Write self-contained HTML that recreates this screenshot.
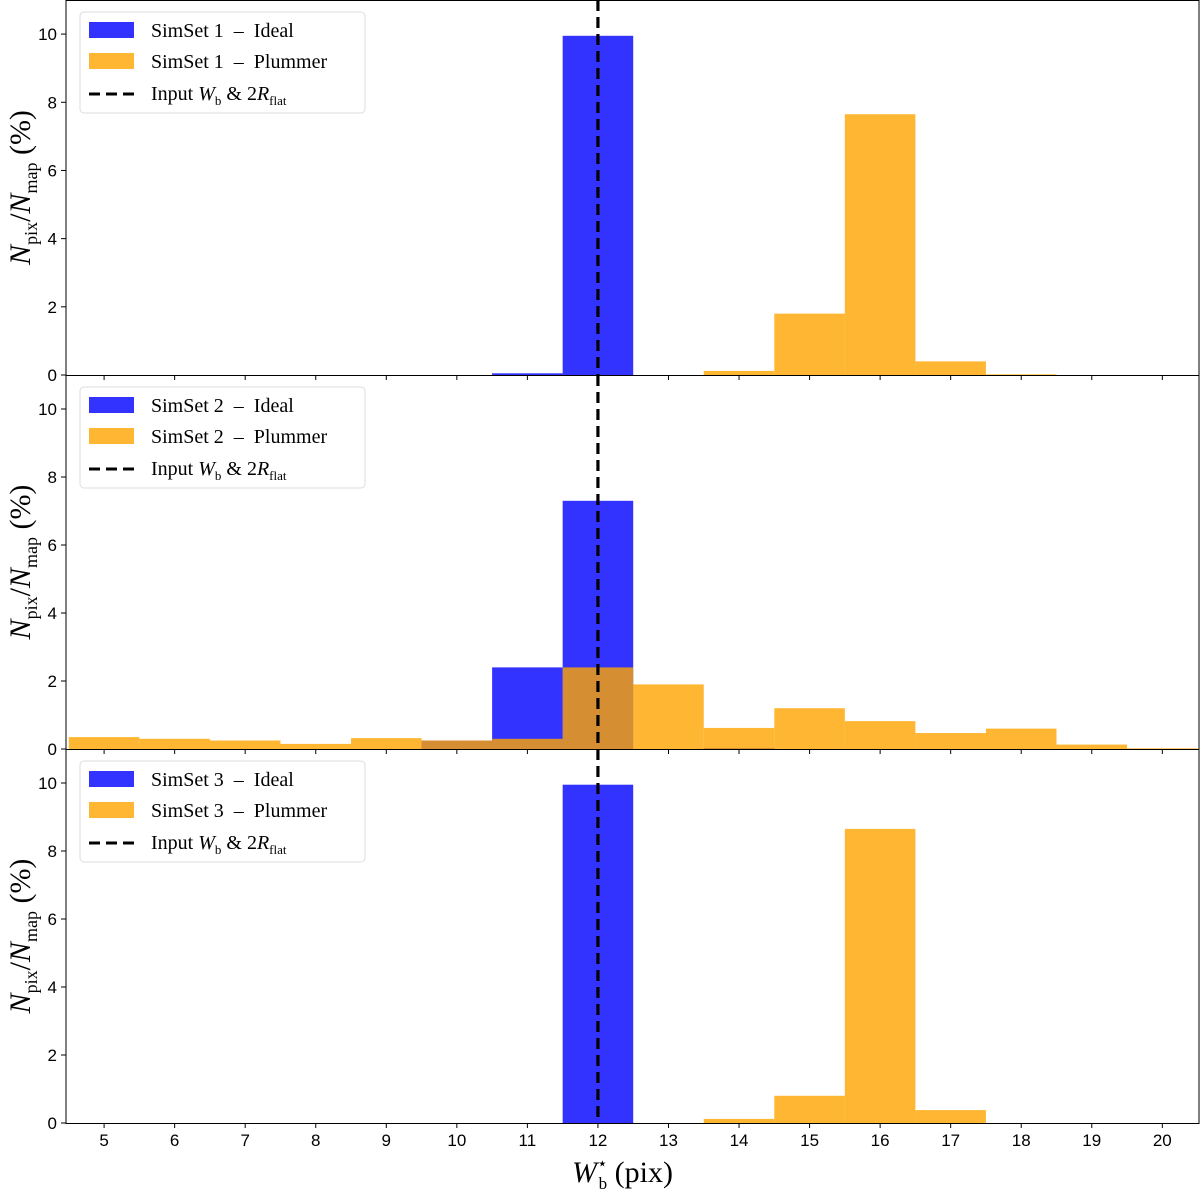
<!DOCTYPE html>
<html><head><meta charset="utf-8">
<style>
html,body{margin:0;padding:0;background:#fff;}
svg{display:block;font-family:"Liberation Serif",serif;}
.tick{font-family:"Liberation Sans",sans-serif;font-size:17px;}
</style></head>
<body>
<svg id="chart" width="1200" height="1192" viewBox="0 0 1200 1192" xmlns="http://www.w3.org/2000/svg"></svg>
<script>
const bins = [5,6,7,8,9,10,11,12,13,14,15,16,17,18,19,20];
const xTicks = [5,6,7,8,9,10,11,12,13,14,15,16,17,18,19,20];
const yTicks = [0,2,4,6,8,10];
const idealSet1   = [0,0,0,0,0,0,0.05,9.95,0,0,0,0,0,0,0,0];
const plummerSet1 = [0,0,0,0,0,0,0,0,0,0.12,1.8,7.65,0.4,0.02,0,0];
const idealSet2   = [0,0,0,0,0,0.25,2.4,7.3,0,0.03,0,0,0,0,0,0];
const plummerSet2 = [0.35,0.3,0.25,0.15,0.32,0.25,0.3,2.4,1.9,0.62,1.2,0.82,0.47,0.6,0.13,0.02];
const idealSet3   = [0,0,0,0,0,0,0,9.95,0,0,0,0,0,0,0,0];
const plummerSet3 = [0,0,0,0,0,0,0,0,0,0.12,0.8,8.65,0.38,0,0,0];
const inputWb = 12;
const panels = [
  {name:'1', ideal:idealSet1, plummer:plummerSet1, top:0, bottom:375},
  {name:'2', ideal:idealSet2, plummer:plummerSet2, top:375, bottom:749},
  {name:'3', ideal:idealSet3, plummer:plummerSet3, top:749, bottom:1123}
];
const NS='http://www.w3.org/2000/svg';
const svg=document.getElementById('chart');
const L=66,R=1199, xMin=4.46, xMax=20.52, yMax=11.0;
const xs=v=>L+(v-xMin)/(xMax-xMin)*(R-L);
function mk(tag,attrs,parent){const e=document.createElementNS(NS,tag);for(const k in attrs)e.setAttribute(k,attrs[k]);(parent||svg).appendChild(e);return e;}
const SP='\u00a0\u00a0';
panels.forEach((p,pi)=>{
  const ys=v=>p.bottom-(v/yMax)*(p.bottom-p.top);
  const g=mk('g',{});
  
  
  [['ideal','rgba(0,0,255,0.8)'],['plummer','rgba(255,165,0,0.8)']].forEach(([key,col])=>{
    p[key].forEach((v,i)=>{
      if(v<=0) return;
      const r=mk('rect',{x:xs(bins[i]-0.5),y:ys(v),width:xs(bins[i]+0.5)-xs(bins[i]-0.5),height:ys(0)-ys(v),fill:col},g);
      
      
    });
  });
  yTicks.forEach(t=>{
    mk('line',{x1:L-5,x2:L,y1:ys(t),y2:ys(t),stroke:'#000','stroke-width':1},g);
    const tx=mk('text',{x:L-9,y:ys(t)+6,'text-anchor':'end',class:'tick'},g);
    tx.textContent=t;
    
    
  });
  xTicks.forEach(t=>{
    mk('line',{x1:xs(t),x2:xs(t),y1:p.bottom,y2:p.bottom+5,stroke:'#000','stroke-width':1},g);
    if(pi===2){
      const tx=mk('text',{x:xs(t),y:p.bottom+23,'text-anchor':'middle',class:'tick'},g);
      tx.textContent=t;
      
      
    }
  });
  const fr=mk('rect',{x:L,y:p.top+0.5,width:R-L,height:p.bottom-p.top,fill:'none',stroke:'#000','stroke-width':1},g);
  
  
  const dl=mk('line',{x1:xs(inputWb),x2:xs(inputWb),y1:p.top,y2:p.bottom,stroke:'#000','stroke-width':3.2,'stroke-dasharray':'11,6'},g);
  
  
  const yl=mk('text',{transform:`translate(30,${(p.top+p.bottom)/2}) rotate(-90)`,'text-anchor':'middle','font-size':'30px','font-style':'italic'},g);
  yl.innerHTML='N<tspan font-size="18" dy="7" font-style="normal">pix</tspan><tspan dy="-7" font-style="normal">/</tspan>N<tspan font-size="18" dy="7" font-style="normal">map</tspan><tspan dy="-7" font-style="normal">\u00a0(%)</tspan>';
  
  
  const lg=mk('g',{transform:`translate(80,${p.top+12})`},g);
  
  
  mk('rect',{x:0,y:0,width:285,height:101,rx:4,fill:'#fff','fill-opacity':0.8,stroke:'#ddd'},lg);
  mk('rect',{x:9,y:10,width:45,height:16,fill:'rgba(0,0,255,0.8)'},lg);
  mk('rect',{x:9,y:41,width:45,height:16,fill:'rgba(255,165,0,0.8)'},lg);
  mk('line',{x1:9,x2:54,y1:82,y2:82,stroke:'#000','stroke-width':3,'stroke-dasharray':'11,6'},lg);
  const t1=mk('text',{x:71,y:25,'font-size':'20px'},lg); t1.textContent='SimSet\u00a0'+p.name+SP+'\u2013'+SP+'Ideal';
  
  
  const t2=mk('text',{x:71,y:56,'font-size':'20px'},lg); t2.textContent='SimSet\u00a0'+p.name+SP+'\u2013'+SP+'Plummer';
  
  
  const t3=mk('text',{x:71,y:88,'font-size':'20px'},lg);
  t3.innerHTML='Input <tspan font-style="italic">W</tspan><tspan font-size="13" dy="5">b</tspan><tspan dy="-5"> &amp; 2</tspan><tspan font-style="italic">R</tspan><tspan font-size="13" dy="5">flat</tspan>';
  
  
});
const xl=mk('text',{x:572,y:1182,'font-size':'30px','font-style':'italic'});
xl.innerHTML='W<tspan font-size="17" dy="-13" font-style="normal">\u22c6</tspan><tspan font-size="17" dx="-9" dy="20" font-style="normal">b</tspan><tspan dy="-7" font-style="normal">\u00a0(pix)</tspan>';


</script>
</body></html>
